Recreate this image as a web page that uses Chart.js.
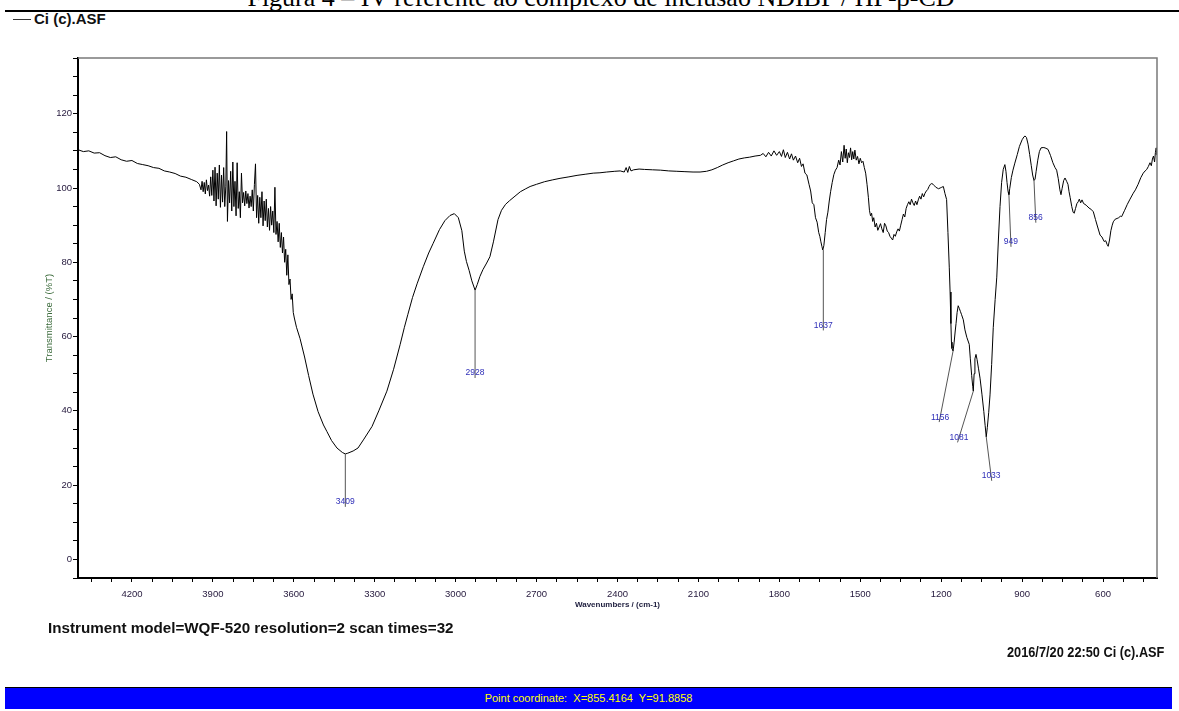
<!DOCTYPE html>
<html><head><meta charset="utf-8">
<script src="https://cdn.jsdelivr.net/npm/chart.js@4.4.1/dist/chart.umd.min.js"></script>
<style>
html,body{margin:0;padding:0;background:#fff;width:1179px;height:711px;overflow:hidden;position:relative;font-family:"Liberation Sans",Arial,sans-serif}
#c{position:absolute;left:0;top:0}
.t{position:absolute;white-space:nowrap}
#fig{left:0;width:1202px;text-align:center;top:-15px;font:26px/26px "Liberation Serif","Times New Roman",serif;color:#000}
#rule{position:absolute;left:5px;right:0;top:10px;height:2px;background:#000}
#leg{left:13px;top:11px;font:bold 15px/16px "Liberation Sans",Arial,sans-serif;color:#111}
#leg .ln{display:inline-block;width:18px;height:1px;background:#333;vertical-align:middle;margin-right:3px;position:relative;top:-1px}
#inst{left:48px;top:619px;font:bold 15.2px/18px "Liberation Sans",Arial,sans-serif;color:#111}
#date{right:15px;top:643px;font:bold 15.2px/18px "Liberation Sans",Arial,sans-serif;color:#111;transform:scaleX(0.84);transform-origin:right center}
#bar{position:absolute;left:5px;width:1167px;top:687px;height:21px;background:#0000ff;border-top:1px solid #000;color:#ffff00;font:11px/21px "Liberation Sans",Arial,sans-serif;text-align:center;white-space:pre}
</style></head><body>
<div class="t" id="fig">Figura 4 – IV referente ao complexo de inclusão NDIBP / HP-β-CD</div>
<div id="rule"></div>
<div class="t" id="leg"><span class="ln"></span>Ci (c).ASF</div>
<canvas id="c" width="1179" height="711"></canvas>
<div class="t" id="inst">Instrument model=WQF-520 resolution=2 scan times=32</div>
<div class="t" id="date">2016/7/20 22:50 Ci (c).ASF</div>
<div id="bar">Point coordinate:  X=855.4164  Y=91.8858</div>
<script>
// ---- data ----
const wavenumbers = [
4400,4380,4360,4340,4320,4300,4280,4260,4240,4220,4200,4180,4160,4140,4120,4100,4080,4060,4040,4020,4000,3980,3960,3950,
3944,3940,3936,3932,3928,3924,3920,3916,3912,3908,
3904,3900,3896,3892,3888,3884,3880,3876,3872,3868,
3864,3860,3856,3852,3849,3846,3842,3838,3834,3830,
3826,3822,3818,3814,3810,3806,3802,3798,3794,3790,
3786,3782,3778,3774,3770,3766,3762,3758,3754,3750,
3746,3742,3738,3734,3730,3726,3722,3718,3714,3710,
3706,3702,3698,3694,3690,3686,3682,3678,3674,3670,
3666,3662,3658,3654,3650,3646,3642,3638,3634,3630,
3626,3622,3618,3614,3610,3606,3602,3598,3590,3577,
3560,3545,3529,3510,3490,3477,3460,3440,3420,3409,
3400,3380,3362,3340,3310,3285,3255,3230,3206,3190,
3177,3160,3143,3120,3100,3084,3060,3040,3021,3005,
2990,2977,2968,2960,2950,2940,2928,2920,2910,2899,
2885,2873,2860,2843,2830,2815,2800,2780,2760,2740,
2724,2700,2670,2640,2613,2580,2550,2520,2490,2465,
2440,2410,2390,2375,2368,2362,2356,2350,2340,2320,
2300,2270,2240,2210,2180,2150,2120,2094,2070,2050,
2030,2010,1990,1970,1950,1930,1910,1890,1870,1860,
1850,1840,1830,1820,1810,1800,1792,1785,1778,1770,
1762,1755,1748,1740,1732,1725,1718,1712,1705,1698,
1690,1684,1678,1672,1666,1660,1654,1650,1646,1642,
1639,1635,1630,1625,1620,1615,1610,1604,1598,1592,
1586,1580,1575,1570,1565,1560,1556,1552,1548,1544,
1540,1536,1532,1528,1524,1520,1515,1510,1505,1500,
1495,1490,1485,1480,1475,1470,1466,1462,1458,1454,
1450,1445,1440,1435,1430,1425,1420,1415,1410,1405,
1400,1395,1390,1385,1380,1375,1370,1365,1360,1355,
1350,1345,1340,1335,1330,1325,1320,1315,1310,1305,
1300,1295,1290,1285,1280,1275,1270,1265,1260,1255,
1250,1245,1240,1235,1230,1225,1220,1215,1210,1204,
1198,1192,1186,1180,1175,1170,1167,1164,1162,1160,
1156,1152,1148,1145,1141,1137,1133,1129,1125,1118,
1112,1105,1096,1092,1087,1083,1081,1078,1075,1071,
1067,1062,1056,1049,1042,1037,1033,1029,1024,1019,
1013,1007,1000,994,988,982,976,970,964,960,
956,952,949,946,940,934,927,918,910,900,
893,889,884,878,872,866,861,856,852,848,
842,836,830,822,815,804,795,786,778,772,
766,760,756,752,746,741,735,730,726,722,
716,711,707,702,697,692,688,683,678,672,
667,660,652,645,636,628,620,611,604,596,
590,585,581,576,571,566,562,555,548,542,
536,531,520,510,500,488,480,470,460,451,
444,438,432,426,421,417,413,409,406,403,
401,400
];
const transmittance = [
110.3,109.8,110.0,109.4,109.5,108.7,108.2,108.4,107.6,107.2,107.4,106.6,106.3,106.0,105.5,105.3,104.6,104.3,103.9,103.2,102.9,102.3,101.7,101.0,
99.5,101.8,99.0,101.5,98.4,102.2,99.3,100.8,97.8,103.0,
98.0,104.8,96.5,105.6,95.2,104.0,97.0,106.2,94.8,103.5,
96.2,105.5,95.0,100.5,115.2,91.0,102.0,96.0,104.5,93.8,
107.0,95.0,101.8,92.5,106.8,94.5,99.0,92.0,104.0,96.0,
98.8,95.2,99.2,95.8,98.5,94.6,97.8,95.0,99.5,93.8,
101.0,106.5,92.0,98.0,90.5,97.5,92.0,99.0,89.8,96.5,
91.2,97.0,89.5,94.5,88.6,95.0,90.0,93.8,88.0,100.2,
87.5,91.0,85.5,90.5,84.0,88.0,82.5,86.8,80.0,83.5,
76.5,82.0,74.0,75.5,70.0,71.5,66.5,65.0,62.5,59.5,
54.5,49.5,44.5,39.8,36.2,34.4,32.0,30.0,28.8,28.4,
28.6,29.2,30.0,32.4,35.8,40.0,45.3,51.2,57.8,62.5,
66.0,70.5,74.2,78.8,82.5,85.0,88.8,91.2,92.6,93.1,
92.0,88.5,83.0,80.2,77.8,75.0,72.5,74.0,76.2,78.0,
79.8,81.5,85.5,91.5,94.0,95.6,96.6,97.8,99.0,99.8,
100.4,101.0,101.7,102.2,102.6,103.0,103.4,103.7,104.0,104.1,
104.3,104.5,104.6,104.3,105.5,104.2,105.8,104.6,104.9,105.1,
105.0,104.9,104.8,104.6,104.5,104.4,104.3,104.3,104.5,104.9,
105.5,106.2,106.8,107.3,107.8,108.1,108.3,108.6,108.8,109.3,
108.4,109.6,108.6,110.0,108.8,109.8,108.5,110.3,108.2,109.6,
107.8,109.2,107.5,108.6,106.8,108.0,105.8,106.5,104.0,103.5,
101.0,99.2,96.0,95.5,92.0,90.8,88.0,87.0,85.5,84.2,
83.3,84.5,88.0,91.5,93.5,96.5,99.0,101.5,103.6,104.8,
105.5,107.5,106.2,109.8,107.0,111.5,108.0,110.5,106.8,109.5,
108.2,110.8,107.6,109.8,107.8,110.2,107.5,108.5,106.5,108.0,
106.8,107.2,105.5,104.0,101.0,97.5,94.0,92.5,93.2,91.0,
92.0,89.5,90.5,88.6,89.5,90.4,89.0,88.0,90.5,89.8,
88.4,88.0,87.0,86.5,86.0,87.5,87.0,88.2,89.0,88.4,
90.0,91.5,93.0,92.2,94.5,95.5,96.3,95.5,97.0,96.0,
95.3,96.5,95.5,96.8,97.8,97.0,98.5,97.6,98.6,99.2,
99.6,100.4,101.0,101.2,101.0,100.6,100.2,100.0,99.8,100.0,
100.2,100.4,98.5,96.9,88.0,78.5,72.0,63.5,58.5,56.8,
56.1,58.5,61.5,63.5,66.5,68.3,67.6,66.8,66.0,64.5,
61.8,59.8,57.9,54.0,49.5,46.5,45.3,50.0,54.0,55.2,
53.8,51.5,48.8,44.5,39.8,36.0,33.0,35.5,39.5,44.3,
52.5,62.4,70.0,76.0,86.0,95.0,101.5,105.0,106.3,104.5,
101.5,99.0,98.2,99.8,102.8,104.8,106.7,109.0,111.2,113.0,
113.8,114.0,113.6,111.8,109.0,106.0,103.5,102.0,102.4,104.5,
107.5,109.8,110.8,110.9,110.8,110.4,108.8,106.8,105.5,104.8,
102.5,99.5,98.2,99.8,102.0,102.7,101.8,101.0,99.0,97.5,
95.0,93.5,93.2,94.5,95.8,96.3,97.0,96.0,96.8,95.8,
95.6,95.2,94.6,94.3,93.6,91.5,89.5,87.3,86.8,85.6,
85.8,84.8,84.3,86.0,88.5,90.0,90.9,91.6,91.8,92.0,
92.4,92.3,94.0,95.6,97.0,98.6,99.5,101.0,102.8,104.0,
104.6,105.0,105.8,106.8,106.0,107.8,108.6,107.0,109.5,110.8,
109.0,110.0
];
// peak annotations: wavenumber, %T at the trough, and where its label sits (in axis units)
const peakWavenumbers = [3409, 2928, 1637, 1156, 1081, 1033, 949, 856];
const peakTransmittance = [28.4, 72.5, 83.3, 56.1, 45.3, 33.0, 98.2, 102.0];
const peakLabelWavenumbers = [3409, 2928, 1637, 1204, 1134, 1015, 942, 850];
const peakLabelTransmittance = [15.5, 50.2, 63.0, 38.3, 32.8, 22.5, 85.5, 92.0];
// axis tick labels
const xTickLabels = [4200, 3900, 3600, 3300, 3000, 2700, 2400, 2100, 1800, 1500, 1200, 900, 600];
const yTickLabels = [0, 20, 40, 60, 80, 100, 120];

const xMinorTicks = [];
for (let v = 4350; v >= 450; v -= 75) xMinorTicks.push(v);
const yMinorTicks = [];
for (let v = -5; v <= 135; v += 5) yMinorTicks.push(v);

Chart.defaults.font.family = '"Liberation Sans", Arial, sans-serif';

const peakPlugin = {
  id: 'peaks',
  afterDatasetsDraw(chart) {
    const {ctx, scales: {x, y}} = chart;
    ctx.save();
    ctx.strokeStyle = '#555';
    ctx.lineWidth = 1;
    ctx.font = '8.5px "Liberation Sans", Arial, sans-serif';
    ctx.fillStyle = '#2e2eb8';
    ctx.textAlign = 'center';
    ctx.textBaseline = 'middle';
    peakWavenumbers.forEach((w, i) => {
      const x0 = x.getPixelForValue(w), y0 = y.getPixelForValue(peakTransmittance[i]);
      const x1 = x.getPixelForValue(peakLabelWavenumbers[i]), y1 = y.getPixelForValue(peakLabelTransmittance[i]);
      const dx = x1 - x0, dy = y1 - y0, L = Math.hypot(dx, dy) || 1;
      ctx.beginPath();
      ctx.moveTo(x0, y0);
      ctx.lineTo(x1 + dx / L * 5, y1 + dy / L * 5);
      ctx.stroke();
      ctx.fillText(String(w), x1, y1);
    });
    ctx.restore();
  },
  afterDraw(chart) {
    const {ctx, chartArea: a} = chart;
    ctx.save();
    ctx.strokeStyle = '#7a7a7a';
    ctx.lineWidth = 1.5;
    ctx.beginPath();
    ctx.moveTo(a.left, a.top);
    ctx.lineTo(a.right, a.top);
    ctx.lineTo(a.right, a.bottom);
    ctx.stroke();
    ctx.restore();
  }
};

new Chart(document.getElementById('c'), {
  type: 'line',
  data: {
    datasets: [{
      label: 'Ci (c).ASF',
      data: wavenumbers.map((w, i) => ({x: w, y: transmittance[i]})),
      borderColor: '#000',
      borderWidth: 1,
      pointRadius: 0,
      tension: 0,
      fill: false
    }]
  },
  options: {
    responsive: false,
    animation: false,
    devicePixelRatio: 1,
    layout: {padding: {left: 40, top: 58, right: 22, bottom: 101}},
    plugins: {legend: {display: false}, tooltip: {enabled: false}},
    scales: {
      x: {
        type: 'linear', reverse: true, min: 400, max: 4400,
        afterBuildTicks(s) { s.ticks = xMinorTicks.map(v => ({value: v})); },
        afterFit(s) { s.height = 32; },
        ticks: {autoSkip: false, maxRotation: 0, minRotation: 0, padding: 7, color: '#24183c',
          font: {size: 9.5}, callback: v => xTickLabels.includes(v) ? String(v) : ''},
        grid: {drawOnChartArea: false, drawTicks: true, tickLength: 4, color: '#000', lineWidth: 1},
        border: {display: true, color: '#000', width: 2},
        title: {display: true, text: 'Wavenumbers / (cm-1)', color: '#1d1d3d',
          font: {size: 8, weight: 'bold'}, padding: {top: 0, bottom: 0}}
      },
      y: {
        type: 'linear', min: -5, max: 135,
        afterBuildTicks(s) { s.ticks = yMinorTicks.map(v => ({value: v})); },
        afterFit(s) { s.width = 38; },
        ticks: {autoSkip: false, padding: 1, color: '#24183c', font: {size: 9.5},
          callback: v => yTickLabels.includes(v) ? String(v) : ''},
        grid: {drawOnChartArea: false, drawTicks: true, tickLength: 5, color: '#000', lineWidth: 1},
        border: {display: true, color: '#000', width: 2},
        title: {display: true, text: 'Transmittance / (%T)', color: '#3a6a3a',
          font: {size: 9.5}, padding: {top: 3.5, bottom: 0}}
      }
    }
  },
  plugins: [peakPlugin]
});
</script>
</body></html>
